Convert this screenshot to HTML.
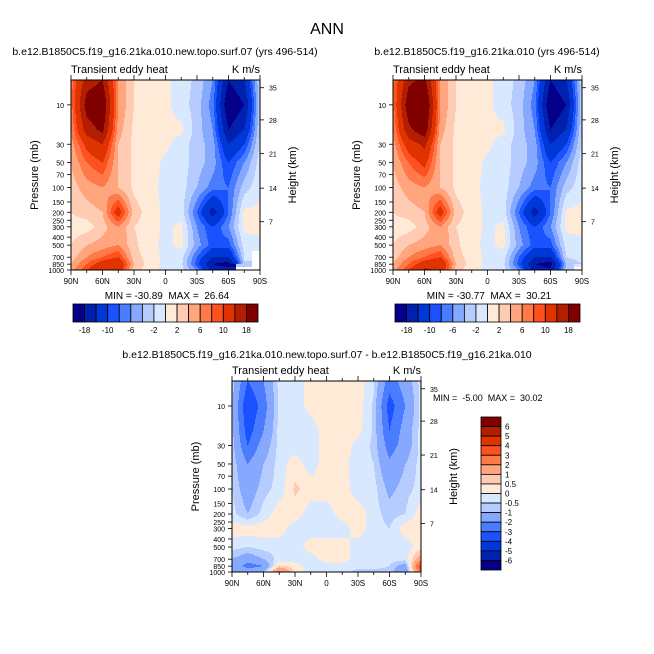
<!DOCTYPE html>
<html><head><meta charset="utf-8">
<style>
html,body{margin:0;padding:0;background:#fff;}
body{width:654px;height:654px;position:relative;overflow:hidden;font-family:"Liberation Sans",sans-serif;}
text{white-space:pre;}
</style></head>
<body>
<svg id="svg" width="654" height="654" xmlns="http://www.w3.org/2000/svg" style="position:absolute;left:0;top:0;font-family:'Liberation Sans',sans-serif;">
</svg>
<script>
// ---- data ----
const lats = [90,75,60,45,30,15,0,-15,-30,-45,-60,-75,-90];
const plevs = [5,10,20,30,50,100,200,300,500,700,850,1000];
const levelsTop = [-18,-14,-10,-8,-6,-4,-2,0,2,4,6,8,10,14,18];
const levelsDiff = [-6,-5,-4,-3,-2,-1,-0.5,0,0.5,1,2,3,4,5,6];
const colors = ["#05008a","#0020b0","#0038d8","#1a52ff","#4a7cff","#86a8ff","#b6ccff","#d8e8ff","#ffead8","#ffcbb2","#ffa67e","#ff7a48","#ff5020","#e03400","#b41e00","#800000"];
const pTicks = [10,30,50,70,100,150,200,250,300,400,500,700,850,1000];
const hTicks = [35,28,21,14,7];
const hTickP = [6.2,15.2,39,102,260];
const latLabels = ["90N","60N","30N","0","30S","60S","90S"];
const barLabelsTop = ["-18","-10","-6","-2","2","6","10","18"];
const barLabelsDiff = ["6","5","4","3","2","1","0.5","0","-0.5","-1","-2","-3","-4","-5","-6"];
// rows: lat (90N..90S), cols: plevs
const fieldA = [
 [7,7,6,5,4,3,2,1,2,3,4,5],
 [16,20,16,11,8,5,3,1,4,6,8,10],
 [18,22,19,14,10,6,4,3,5,8,12,14],
 [6,6,5,4,4,4,12,6,6,10,14,12],
 [2,2,1.5,1.5,1.5,1.5,3,2,2.5,3,4,3],
 [1,1,1,1,1,0.5,1,1,0.5,1,1,0.5],
 [0.5,0.5,0.5,0.5,-0.5,-0.5,-0.5,-0.5,-0.5,-0.5,-0.5,-0.5],
 [-1,-1,0.5,-1,-1,-1,-1,0.5,0.5,-1,-1.5,-1],
 [-2.5,-3,-3,-3,-3,-4,-8,-6,-5,-8,-9,-6],
 [-6,-7,-6,-5,-5,-7,-16,-10,-9,-14,-18,-16],
 [-18,-22,-18,-14,-10,-8,-8,-6,-9,-14,-20,-16],
 [-14,-18,-14,-10,-6,-3,0.5,0.5,-1,-2,-3,null],
 [-2,-2,-2,-1.5,-1,-0.5,0.5,0.5,-0.5,null,null,null]
];
const fieldB = [
 [7,7,6,5,4,3,2,1,2,3,4,5],
 [17,21,17,12,8,5,3,1,4,6,8,10],
 [19,24,21,15,11,6,4,3,5,8,12,15],
 [6,6,5,4,4,4,12,6,6,10,14,13],
 [2,2,1.5,1.5,1.5,1.5,3,2,2.5,3,4,3],
 [1,1,1,1,1,0.5,1,1,0.5,1,1,0.5],
 [0.5,0.5,0.5,0.5,-0.5,-0.5,-0.5,-0.5,-0.5,-0.5,-0.5,-0.5],
 [-1,-1,0.5,-1,-1,-1,-1,0.5,0.5,-1,-1.5,-1],
 [-2.5,-3,-3,-3,-3,-4,-8,-6,-5,-8,-9,-6],
 [-6,-7,-6,-5,-5,-7,-16,-10,-9,-14,-18,-16],
 [-18,-22,-18,-14,-10,-8,-8,-6,-9,-14,-20,-17],
 [-14,-18,-14,-10,-6,-3,0.5,0.5,-1,-2,-4,-3],
 [-2,-2,-2,-1.5,-1,-0.5,0.5,0.5,-0.5,-1,-2,null]
];
const fieldD = [
 [-0.7,-0.8,-0.8,-0.7,-0.6,-0.5,-0.3,0.3,-0.3,-1,-1,-1],
 [-3,-4,-3.5,-3,-2,-1.5,-1,0.3,-0.5,-1.5,-2.5,-1],
 [-2,-2.5,-2,-1.5,-1,-0.7,-0.3,0.3,-0.3,-1,-2,-1],
 [-0.3,-0.3,-0.3,-0.3,-0.3,-0.3,0.3,0.3,-0.3,-0.3,0.6,2.5],
 [-0.3,-0.3,-0.3,-0.3,0.3,0.6,0.3,-0.3,-0.3,-0.3,0.3,0.3],
 [0.2,0.2,-0.3,-0.3,-0.3,0.3,-0.3,-0.3,0.3,-0.3,-0.3,-0.3],
 [0.3,0.3,0.3,0.3,0.3,0.3,-0.3,-0.3,0.3,0.3,-0.3,-0.3],
 [0.3,0.3,0.3,0.3,0.2,0.3,0.3,-0.3,0.3,0.3,-0.3,-0.3],
 [0.3,0.3,0.2,-0.2,-0.3,-0.3,0.3,0.3,-0.3,-0.3,-0.3,-0.7],
 [-0.4,-0.6,-0.6,-0.6,-0.5,-0.3,-0.3,-0.3,-0.3,-0.3,-0.3,-0.7],
 [-2.5,-3.5,-3,-2.5,-1.8,-1.2,-0.7,-0.5,-0.3,-0.3,-0.5,-0.7],
 [-1.5,-2,-1.5,-1.5,-1,-0.7,-0.5,0.3,-0.3,-0.3,-1.5,-2],
 [-0.3,-0.3,-0.3,-0.3,-0.3,-0.3,0.3,0.3,0.3,1.5,4,3]
];

const NS="http://www.w3.org/2000/svg";
const svg=document.getElementById('svg');
function mk(tag,attrs,parent){const e=document.createElementNS(NS,tag);for(const k in attrs)e.setAttribute(k,attrs[k]);(parent||svg).appendChild(e);return e;}
function txt(x,y,s,size,anchor,parent,name){const e=mk('text',{x:x,y:y,'font-size':size,'text-anchor':anchor||'start',fill:'#000'},parent);e.textContent=s;


return e;}
function colorFor(v,levels){if(v===null)return null;let i=0;while(i<levels.length&&v>=levels[i])i++;return colors[i];}

function interp(field,li,lp){
  let j=0;while(j<plevs.length-2&&Math.log(plevs[j+1])<lp)j++;
  const l0=Math.log(plevs[j]),l1=Math.log(plevs[j+1]);
  let fy=(lp-l0)/(l1-l0);fy=Math.max(0,Math.min(1,fy));
  let i=Math.min(Math.floor(li),lats.length-2);let fx=li-i;
  const a=field[i][j],b=field[i+1][j],c=field[i][j+1],d=field[i+1][j+1];
  if(a===null||b===null||c===null||d===null){
    const near=[[a,(1-fx)*(1-fy)],[b,fx*(1-fy)],[c,(1-fx)*fy],[d,fx*fy]];
    let best=near[0];for(const n of near)if(n[1]>best[1])best=n;return best[0];}
  return a*(1-fx)*(1-fy)+b*fx*(1-fy)+c*(1-fx)*fy+d*fx*fy;
}

function panel(o){
  const g=mk('g',{});
  
  
  const x0=o.x,y0=o.y,w=o.w,h=o.h;
  const pTop=5,pBot=1000;
  const yOf=p=>y0+h*(Math.log(p/pTop))/Math.log(pBot/pTop);
  const xOf=lat=>x0+w*(90-lat)/180;
  const cg=mk('g',{'shape-rendering':'crispEdges'},g);
  
  
  const step=1;
  for(let py=0;py<h;py+=step){
    const lp=Math.log(pTop)+(py+step/2)/h*Math.log(pBot/pTop);
    let runStart=0,runCol=null;
    for(let px=0;px<=w;px+=step){
      let col='end';
      if(px<w){const lat=90-(px+step/2)/w*180;const li=(90-lat)/15;const v=interp(o.field,li,lp);col=colorFor(v,o.levels)||'#ffffff';}
      if(col!==runCol){
        if(runCol!==null&&runCol!=='end'){mk('rect',{x:x0+runStart,y:y0+py,width:Math.min(px,w)-runStart,height:Math.min(step,h-py)+0.3,fill:runCol},cg);}
        runStart=px;runCol=col;
      }
    }
  }
  const fr=mk('rect',{x:x0,y:y0,width:w,height:h,fill:'none',stroke:'#000','stroke-width':1},g);
  
  
  const latVals=[90,60,30,0,-30,-60,-90];
  for(let k=-90;k<=90;k+=15){const x=xOf(k);const major=(k%30===0);
    mk('line',{x1:x,x2:x,y1:y0+h,y2:y0+h+(major?5:3),stroke:'#000','stroke-width':0.8},g);
    mk('line',{x1:x,x2:x,y1:y0,y2:y0-(major?5:3),stroke:'#000','stroke-width':0.8},g);}
  latLabels.forEach((s,i)=>txt(xOf(latVals[i]),y0+h+14,s,8,'middle',g,'x-tick-label'));
  pTicks.forEach(p=>{const y=yOf(p);mk('line',{x1:x0-4,x2:x0,y1:y,y2:y,stroke:'#000','stroke-width':0.8},g);
    txt(x0-7,y+3,String(p),7,'end',g,'y-tick-label');});
  hTicks.forEach((hk,i)=>{const y=yOf(hTickP[i]);mk('line',{x1:x0+w,x2:x0+w+4,y1:y,y2:y,stroke:'#000','stroke-width':0.8},g);
    txt(x0+w+9,y+3,String(hk),7,'start',g,'height-tick-label');});
  const yl=txt(0,0,'Pressure (mb)',11,'middle',g,'y-axis-title');yl.setAttribute('transform',`translate(${x0-33},${y0+h/2}) rotate(-90)`);
  const hl=txt(0,0,'Height (km)',11,'middle',g,'y2-axis-title');hl.setAttribute('transform',`translate(${x0+w+36},${y0+h/2}) rotate(-90)`);
  txt(x0,y0-7,'Transient eddy heat',11,'start',g,'plot-subtitle-left');
  txt(x0+w,y0-7,'K m/s',11,'end',g,'units-label');
  if(o.title)txt(o.tx,o.ty,o.title,10.5,'middle',g,'panel-title');
}

function hbar(x,y,w,h,labels,name){
  const g=mk('g',{});
  
  
  const bw=w/colors.length;
  colors.forEach((c,i)=>{const r=mk('rect',{x:x+i*bw,y:y,width:bw,height:h,fill:c,stroke:'#000','stroke-width':0.8},g);
    
    });
  labels.forEach((s,k)=>txt(x+bw*(1+2*k),y+h+11,s,8,'middle',g,'colorbar-label'));
}
function vbar(x,y,w,h,labels,name){
  const g=mk('g',{});
  
  
  const bh=h/colors.length;
  colors.slice().reverse().forEach((c,i)=>{const r=mk('rect',{x:x,y:y+i*bh,width:w,height:bh,fill:c,stroke:'#000','stroke-width':0.8},g);
    
    });
  labels.forEach((s,k)=>txt(x+w+4,y+bh*(k+1)+3,s,8,'start',g,'colorbar-label'));
}

txt(327,34,'ANN',16,'middle',svg,'main-title');
panel({name:'panel-top-left',x:71,y:80,w:189,h:190,field:fieldA,levels:levelsTop,title:'b.e12.B1850C5.f19_g16.21ka.010.new.topo.surf.07 (yrs 496-514)',tx:165,ty:55});
txt(167,299,'MIN = -30.89  MAX =  26.64',10,'middle',svg,'min-max-left');
hbar(73,304,185,18,barLabelsTop,'colorbar-top-left');
panel({name:'panel-top-right',x:393,y:80,w:189,h:190,field:fieldB,levels:levelsTop,title:'b.e12.B1850C5.f19_g16.21ka.010 (yrs 496-514)',tx:487,ty:55});
txt(489,299,'MIN = -30.77  MAX =  30.21',10,'middle',svg,'min-max-right');
hbar(395,304,185,18,barLabelsTop,'colorbar-top-right');
panel({name:'panel-difference',x:232,y:381,w:189,h:191,field:fieldD,levels:levelsDiff,title:'b.e12.B1850C5.f19_g16.21ka.010.new.topo.surf.07 - b.e12.B1850C5.f19_g16.21ka.010',tx:327,ty:358});
txt(433,401,'MIN =  -5.00  MAX =  30.02',9,'start',svg,'min-max-diff');
vbar(481,417,20,153,barLabelsDiff,'colorbar-diff');
</script>
</body></html>
